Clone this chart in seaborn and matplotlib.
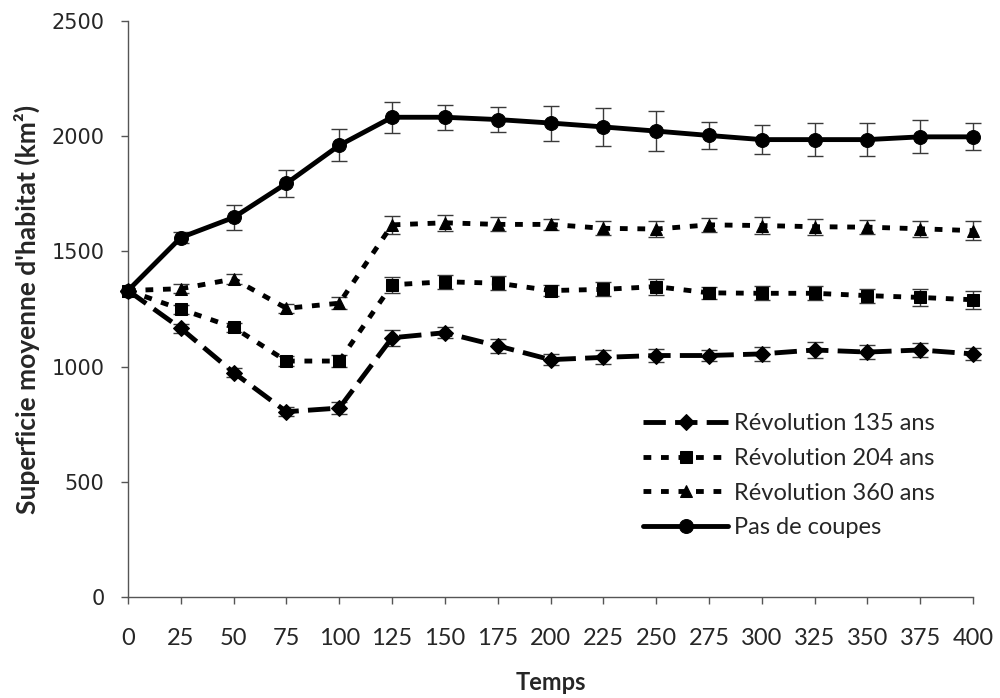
import matplotlib
matplotlib.use("Agg")
import matplotlib.pyplot as plt
import seaborn as sns
import numpy as np
import pandas as pd

temps = [0, 25, 50, 75, 100, 125, 150, 175, 200, 225, 250, 275, 300, 325, 350, 375, 400]

rev135 = [1330, 1166, 974, 804, 820, 1125, 1147, 1090, 1030, 1040, 1048, 1048, 1055, 1072, 1063, 1072, 1055]
rev135_err = [0, 20, 20, 20, 25, 35, 25, 30, 25, 30, 30, 25, 30, 35, 30, 30, 25]

rev204 = [1330, 1249, 1170, 1024, 1024, 1355, 1368, 1362, 1330, 1335, 1347, 1320, 1318, 1318, 1308, 1300, 1290]
rev204_err = [0, 20, 20, 20, 25, 35, 30, 30, 25, 30, 35, 25, 30, 30, 30, 35, 40]

rev360 = [1330, 1338, 1380, 1253, 1275, 1615, 1624, 1617, 1617, 1600, 1597, 1615, 1612, 1607, 1605, 1598, 1590]
rev360_err = [0, 20, 20, 20, 25, 40, 35, 30, 25, 30, 35, 30, 35, 35, 30, 35, 40]

pas_coupes = [1330, 1560, 1647, 1795, 1960, 2082, 2082, 2072, 2057, 2040, 2022, 2003, 1985, 1985, 1985, 1997, 1997]
pas_coupes_err = [0, 22, 53, 59, 69, 67, 55, 54, 76, 82, 85, 58, 62, 71, 71, 71, 58]

labels = ["Révolution 135 ans", "Révolution 204 ans", "Révolution 360 ans", "Pas de coupes"]

sns.set_theme(style="white")
plt.rcParams['font.family'] = ['Lato', 'DejaVu Sans']

fig = plt.figure(figsize=(10, 6.98), dpi=100)
ax = fig.add_axes([0.128, 0.1447, 0.845, 0.8253])

series = [
    (rev135, rev135_err, labels[0], "D", (4.6, 1.9), 8),
    (rev204, rev204_err, labels[1], "s", (1.6, 2.0), 8.5),
    (rev360, rev360_err, labels[2], "^", (1.6, 2.0), 9),
    (pas_coupes, pas_coupes_err, labels[3], "o", None, 10),
]

lw = 3.5
for vals, errs, lab, mk, dash, ms in series:
    df = pd.DataFrame({"Temps": temps, "val": vals})
    ax.errorbar(temps, vals, yerr=errs, fmt="none", ecolor="#3a3a3a",
                elinewidth=1.0, capsize=5.5, capthick=1.0, zorder=2, clip_on=False)
    sns.lineplot(data=df, x="Temps", y="val", ax=ax, color="black", lw=lw,
                 marker=mk, markersize=ms, markeredgecolor="black",
                 markerfacecolor="black", label=lab, zorder=3, clip_on=False,
                 dashes=False)
    line = ax.get_lines()[-1]
    if dash is not None:
        line.set_dashes(dash)
        line.set_dash_capstyle("butt")

ax.set_xlim(0, 400)
ax.set_ylim(0, 2500)
ax.set_xticks(temps)
ax.set_xticklabels([str(t) for t in temps], fontsize=17)
ax.set_yticks([0, 500, 1000, 1500, 2000, 2500])
ax.set_yticklabels(["0", "500", "1000", "1500", "2000", "2500"], fontsize=15,
                   family=["DejaVu Sans"])
ax.tick_params(axis="both", which="both", direction="out", length=5, width=1,
               color="#555555", bottom=True, left=True)
ax.tick_params(axis="x", pad=17)
ax.tick_params(axis="y", pad=12)
for s in ["top", "right"]:
    ax.spines[s].set_visible(False)
for s in ["left", "bottom"]:
    ax.spines[s].set_color("#555555")
    ax.spines[s].set_linewidth(1.0)

ax.set_xlabel("Temps", fontsize=17, fontweight="bold", labelpad=16)
ax.set_ylabel("Superficie moyenne d'habitat (km²)", fontsize=19, fontweight="bold", labelpad=8)

handles, labs = ax.get_legend_handles_labels()
leg = ax.legend(handles, labs, loc="lower right", bbox_to_anchor=(0.98, 0.065),
                frameon=False, fontsize=17, handlelength=3.6, labelspacing=0.58,
                handletextpad=0.25)

fig.savefig("out.png", dpi=100)
